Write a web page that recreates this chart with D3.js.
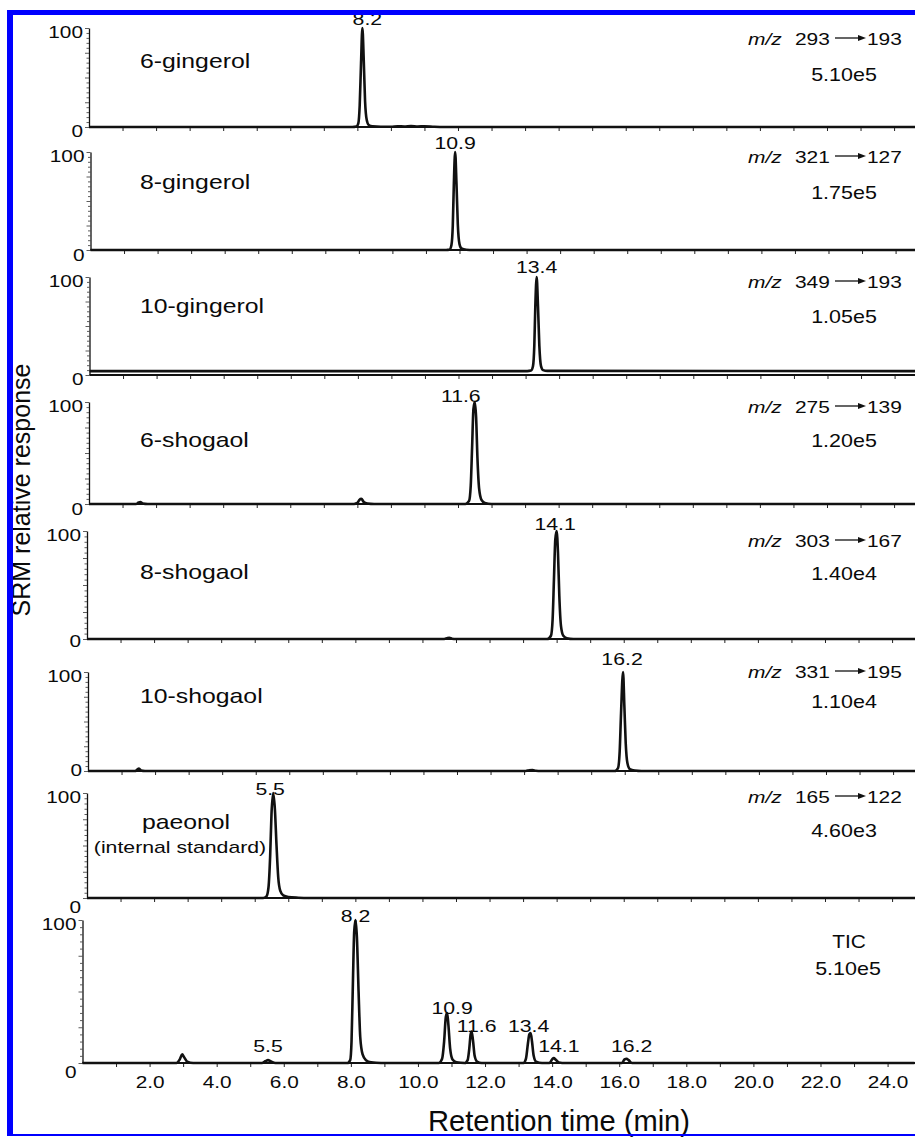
<!DOCTYPE html>
<html><head><meta charset="utf-8">
<script src="https://cdn.jsdelivr.net/npm/d3@7"></script>
<style>
body{margin:0;background:#fff}
svg{display:block}
text{font-family:"Liberation Sans",Arial,Helvetica,sans-serif;fill:#0a0a0a}
</style>
</head><body>
<svg id="c" width="915" height="1137"></svg>
<script>
// ---------------- DATA ----------------
const compounds = ["6-gingerol","8-gingerol","10-gingerol","6-shogaol","8-shogaol","10-shogaol","paeonol","TIC"];
const compoundNotes = ["","","","","","","(internal standard)",""];
const precursorIons = [293,321,349,275,303,331,165,null];
const productIons = [193,127,193,139,167,195,122,null];
const intensities = ["5.10e5","1.75e5","1.05e5","1.20e5","1.40e4","1.10e4","4.60e3","5.10e5"];
const xTickValues = [1,2,3,4,5,6,7,8,9,10,11,12,13,14,15,16,17,18,19,20,21,22,23,24];
const xTickLabelValues = [2,4,6,8,10,12,14,16,18,20,22,24];
const xTickLabels = ["2.0","4.0","6.0","8.0","10.0","12.0","14.0","16.0","18.0","20.0","22.0","24.0"];
const yTickLabels = ["0","100"];

// traces: [retention time (min), relative response (%)]
const trace6Gingerol = [[0,0],[7.85,0],[7.97,0.5],[8.03,4],[8.07,22],[8.11,65],[8.15,100],[8.19,68],[8.23,26],[8.28,7],[8.34,2],[8.45,0.8],[8.7,0.3],[9.0,0.3],[9.2,0.8],[9.4,0.5],[9.6,0.9],[9.8,0.5],[10.0,0.7],[10.3,0.2],[10.6,0],[24.8,0]];
const trace8Gingerol = [[0,0],[10.6,0],[10.71,0.5],[10.76,5],[10.8,25],[10.83,65],[10.87,100],[10.91,68],[10.95,26],[11.0,6],[11.06,1.5],[11.2,0.3],[11.4,0],[24.8,0]];
const trace10Gingerol = [[0,4],[13.05,4],[13.16,4.5],[13.22,9],[13.26,30],[13.29,70],[13.33,100],[13.37,70],[13.41,30],[13.46,9],[13.52,5],[13.65,4.2],[24.8,4]];
const trace6Shogaol = [[0,0],[1.4,0],[1.48,1.5],[1.53,2],[1.6,0.5],[1.75,0],[7.9,0],[8.0,1],[8.06,4],[8.12,5],[8.19,2],[8.3,0.5],[8.5,0],[11.22,0],[11.33,3],[11.38,18],[11.42,55],[11.46,93],[11.5,100],[11.54,85],[11.58,45],[11.63,15],[11.7,4],[11.8,1],[12.0,0],[24.8,0]];
const trace8Shogaol = [[0,0],[10.65,0],[10.75,1],[10.8,1.2],[10.88,0.3],[11.0,0],[13.72,0],[13.83,3],[13.88,18],[13.92,55],[13.96,92],[14.0,100],[14.04,80],[14.08,40],[14.13,12],[14.2,3],[14.3,0.8],[14.5,0],[24.8,0]];
const trace10Shogaol = [[0,0],[1.4,0],[1.47,1.5],[1.52,2.5],[1.58,0.5],[1.7,0],[13.05,0],[13.15,0.8],[13.25,1],[13.35,0.2],[13.5,0],[15.7,0],[15.8,3],[15.85,20],[15.89,58],[15.95,100],[15.99,65],[16.03,28],[16.08,8],[16.15,2],[16.3,0.5],[16.5,0],[24.8,0]];
const tracePaeonol = [[0,0],[5.25,0],[5.35,1.5],[5.41,10],[5.46,40],[5.5,80],[5.55,100],[5.6,85],[5.65,50],[5.7,20],[5.76,7],[5.85,2.5],[6.0,1],[6.3,0.3],[6.6,0],[24.8,0]];
const traceTIC = [[0,0],[2.8,0],[2.9,2.5],[2.97,6],[3.03,4],[3.12,1],[3.3,0],[5.35,0],[5.45,1.2],[5.53,2],[5.62,1],[5.75,0],[7.9,0],[7.98,2],[8.02,15],[8.06,55],[8.1,92],[8.14,100],[8.18,88],[8.23,50],[8.28,18],[8.35,6],[8.45,2],[8.6,0.5],[8.9,0],[10.62,0],[10.72,3],[10.78,15],[10.83,32],[10.87,35],[10.91,26],[10.96,10],[11.03,2.5],[11.15,0.5],[11.4,0],[11.48,2],[11.53,10],[11.57,20],[11.6,22],[11.64,16],[11.69,5],[11.76,1],[11.9,0],[13.15,0],[13.22,3],[13.28,14],[13.32,20],[13.36,21],[13.4,15],[13.45,5],[13.52,1],[13.7,0],[13.92,0],[14.0,2.5],[14.05,3.5],[14.1,2.5],[14.2,0.3],[14.3,0],[16.08,0],[16.16,2.5],[16.22,3],[16.28,2],[16.38,0],[24.8,0]];
const traces = [trace6Gingerol,trace8Gingerol,trace10Gingerol,trace6Shogaol,trace8Shogaol,trace10Shogaol,tracePaeonol,traceTIC];

// peak labels: [text, retention time, response]
const peakLabels = [
  [["8.2",8.15,100]],
  [["10.9",10.87,100]],
  [["13.4",13.33,100]],
  [["11.6",11.5,100]],
  [["14.1",14.0,100]],
  [["16.2",15.95,100]],
  [["5.5",5.55,100]],
  [["5.5",5.53,2],["8.2",8.14,100],["10.9",10.87,35],["11.6",11.6,22],["13.4",13.36,21],["14.1",14.05,3.5],["16.2",16.22,3]]
];

// ---------------- LAYOUT ----------------
const W = 915, H = 1137;
const PX_PER_MIN = 33.545, T_MAX = 24.8;
const panelLeft = [89, 90.5, 89.5, 89, 87, 88, 87, 82.5];
const panelTop = [28, 152, 277, 402, 531, 672, 793, 920];
const panelBase = [127, 250, 375, 504, 639, 771, 898, 1063];
const zeroLabelDy = [10, 11, 10, 11, 8, 5, 15, 15];
const nameY = [68, 189, 313, 447, 579, 703, 829, 0];
const noteY = [0,0,0,0,0,0,853,0];
const mzY = [45, 163, 288, 413, 547, 678, 803, 948];
const intY = [81, 199, 323, 447, 580, 708, 837, 975];
const labelOffsets = [
  [[5,-3]],[[0,-3]],[[0,-4]],[[-14,0]],[[-1.5,-1]],[[-1,-7]],[[-3,2]],
  [[0,-8],[0,2],[5,1],[5,0],[-2,-1],[5,-6],[5,-7]]
];

const svg = d3.select("#c");
svg.append("rect").attr("width",W).attr("height",H).attr("fill","#fff");

function stext(g, x, y, str, size, sx, anchor){
  return g.append("text")
    .attr("transform",`translate(${x},${y}) scale(${sx},1)`)
    .attr("font-size",size).attr("text-anchor",anchor||"start").text(str);
}

compounds.forEach((name,i)=>{
  const left = panelLeft[i];
  const x = d3.scaleLinear().domain([0,T_MAX]).range([left, left + T_MAX*PX_PER_MIN]);
  const y = d3.scaleLinear().domain([0,100]).range([panelBase[i], panelTop[i]]);
  const g = svg.append("g");
  const isTIC = i === compounds.length-1;

  // x axis ticks
  const xa = d3.axisBottom(x).tickValues(xTickValues).tickSize(4).tickSizeOuter(0)
     .tickFormat(d => isTIC && xTickLabelValues.includes(d) ? xTickLabels[xTickLabelValues.indexOf(d)] : "");
  const xg = g.append("g").attr("transform",`translate(0,${panelBase[i]})`).call(xa);
  xg.select(".domain").remove();
  xg.selectAll(".tick line").attr("stroke","#222").attr("stroke-width",1);
  xg.selectAll(".tick text").attr("font-size",16).attr("fill","#0a0a0a")
     .attr("font-family","'Liberation Sans',Arial,sans-serif")
     .attr("y",14).attr("dy","0.71em").attr("transform","scale(1.3,1)");
  // x baseline
  g.append("line").attr("x1",left).attr("x2",W).attr("y1",panelBase[i]).attr("y2",panelBase[i])
    .attr("stroke","#111").attr("stroke-width",1.8);

  // y axis
  const ya = d3.axisLeft(y).tickValues(d3.range(0,101,5)).tickSize(3).tickSizeOuter(0).tickFormat("");
  const yg = g.append("g").attr("transform",`translate(${left},0)`).call(ya);
  yg.select(".domain").attr("stroke","#111").attr("stroke-width",1.3);
  yg.selectAll(".tick line").attr("stroke","#333").attr("stroke-width",0.8)
    .attr("x2",d => d%25===0 ? -4 : -2.5);
  stext(g, left-6, y(0)+zeroLabelDy[i], yTickLabels[0], 16, 1.3, "end");
  stext(g, left-6, y(100)+10, yTickLabels[1], 16, 1.3, "end");

  // trace
  const line = d3.line().x(d=>x(d[0])).y(d=>y(d[1])).curve(d3.curveMonotoneX);
  g.append("path").datum(traces[i]).attr("d",line).attr("fill","none")
    .attr("stroke","#111").attr("stroke-width",2.6).attr("stroke-linejoin","round");

  // peak labels
  peakLabels[i].forEach((p,j)=>{
    const off = labelOffsets[i][j];
    stext(g, x(p[1])+off[0], y(p[2])+off[1], p[0], 17, 1.25, "middle");
  });

  // compound label
  if(!isTIC){
    if(compoundNotes[i]){
      stext(g, 186, nameY[i], name, 20, 1.24, "middle");
      stext(g, 180, noteY[i], compoundNotes[i], 17, 1.25, "middle");
    } else {
      stext(g, 140, nameY[i], name, 20, 1.24, "start");
    }
    // m/z label
    const t1 = g.append("text").attr("transform",`translate(748,${mzY[i]}) scale(1.23,1)`).attr("font-size",17);
    t1.append("tspan").attr("font-style","italic").text("m/z");
    stext(g, 795, mzY[i], String(precursorIons[i]), 17, 1.23, "start");
    stext(g, 867, mzY[i], String(productIons[i]), 17, 1.23, "start");
    const ay = mzY[i]-7;
    g.append("line").attr("x1",835).attr("x2",860).attr("y1",ay).attr("y2",ay).attr("stroke","#111").attr("stroke-width",1.3);
    g.append("path").attr("d",`M858,${ay-3}L866,${ay}L858,${ay+3}Z`).attr("fill","#111");
    stext(g, 844, intY[i], intensities[i], 19, 1.13, "middle");
  } else {
    stext(g, 849, mzY[i], name, 19, 1.1, "middle");
    stext(g, 848, intY[i], intensities[i], 19, 1.13, "middle");
  }
});

// axis titles
svg.append("text").attr("transform","translate(30,490) rotate(-90)")
  .attr("font-size",25).attr("text-anchor","middle").text("SRM relative response");
svg.append("text").attr("x",428).attr("y",1131).attr("font-size",29)
  .attr("textLength",262).attr("lengthAdjust","spacingAndGlyphs").text("Retention time (min)");

// blue frame
svg.append("rect").attr("x",7).attr("y",10).attr("width",W-7).attr("height",5).attr("fill","#0000ff");
svg.append("rect").attr("x",7).attr("y",10).attr("width",6).attr("height",1126).attr("fill","#0000ff");
svg.append("rect").attr("x",7).attr("y",1134).attr("width",W-7).attr("height",2).attr("fill","#0000ff");
</script>
</body></html>
